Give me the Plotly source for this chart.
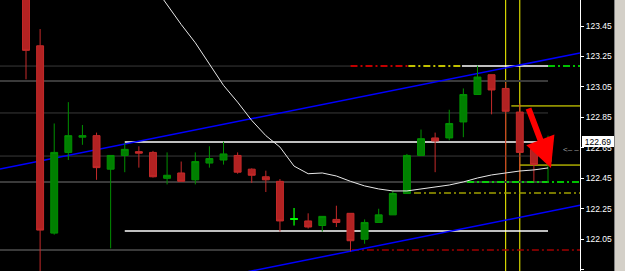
import plotly.graph_objects as go

# ---------------- data ----------------
idx = list(range(38))
opens = [123.75, 123.32, 122.09, 122.62, 122.72, 122.73, 122.51, 122.60, 122.625, 122.62,
         122.45, 122.485, 122.44, 122.55, 122.57, 122.60, 122.51, 122.46, 122.43, 122.18,
         122.17, 122.14, 122.18, 122.22, 122.05, 122.16, 122.21, 122.35, 122.60, 122.715,
         122.715, 122.82, 123.00, 123.13, 123.04, 122.885, 122.64, 122.56]
highs = [123.80, 123.43, 122.81, 122.95, 122.80, 122.75, 122.60, 122.68, 122.66, 122.63,
         122.62, 122.56, 122.62, 122.66, 122.69, 122.62, 122.515, 122.50, 122.445, 122.255,
         122.22, 122.20, 122.27, 122.22, 122.18, 122.25, 122.37, 122.61, 122.77, 122.75,
         122.90, 123.04, 123.19, 123.13, 123.08, 122.94, 122.64, 122.73]
lows = [123.10, 121.80, 122.08, 122.57, 122.67, 122.44, 121.99, 122.49, 122.52, 122.455,
        122.41, 122.43, 122.41, 122.52, 122.54, 122.48, 122.42, 122.36, 122.10, 122.14,
        122.12, 122.10, 122.13, 121.97, 122.02, 122.16, 122.21, 122.35, 122.60, 122.49,
        122.70, 122.72, 123.00, 122.87, 122.44, 122.44, 122.43, 122.42]
closes = [123.29, 122.11, 122.62, 122.73, 122.73, 122.52, 122.60, 122.64, 122.615, 122.46,
          122.47, 122.43, 122.56, 122.58, 122.61, 122.49, 122.47, 122.44, 122.17, 122.185,
          122.13, 122.20, 122.16, 122.04, 122.16, 122.21, 122.35, 122.60, 122.71, 122.695,
          122.81, 123.00, 123.115, 123.03, 122.89, 122.62, 122.54, 122.69]
doji_idx = [19]

ma = [None] * 6 + [124.11, 123.975, 123.85, 123.72, 123.59, 123.46, 123.34, 123.20, 123.06,
                   122.95, 122.83, 122.73, 122.655, 122.53, 122.48, 122.485, 122.465, 122.43,
                   122.40, 122.38, 122.367, 122.367, 122.38, 122.393, 122.406, 122.426,
                   122.452, 122.472, 122.485, 122.498, 122.505, 122.518]

tick_vals = [121.85, 122.05, 122.25, 122.45, 122.65, 122.85, 123.05, 123.25, 123.45]
last_price = 122.69

gray_levels = [123.187, 123.089, 122.879, 122.596, 122.426, 121.979]
gray_end = [23, 37, 37, 37, 37, 23]

white_levels = [122.688, 122.104, 123.187]
white_start = [7, 7, 30.9]
white_end = [37, 37, 37]

# dash-dot levels: level, start index, end index (None = right edge)
dd_levels = [123.187, 123.187, 123.187, 122.426, 122.353, 121.979]
dd_start = [23.0, 27.1, 37.0, 31.26, 27.5, 23.1]
dd_end = [27.1, 30.9, None, None, None, None]

yellow_levels = [122.925, 122.537]
yellow_start = [34.4, 35.0]
vline_idx = [34, 35]

trend_x = [-1.843, 39.27]
trend_upper = [122.511, 123.273]
channel_width = 1.0

arrow_tail = [35.58, 122.918]
arrow_head = [37.21, 122.518]
marker_pos = [38.6, 122.642]

# ---------------- styles ----------------
X_RANGE = [-1.843, 39.268]
Y_RANGE = [121.8413, 123.6207]
gray_widths = [1, 2, 1, 1, 2, 2]
dd_colors = ["#ff0000", "#ffff00", "#00ff00", "#00ff00", "#a0a000", "#a00000"]
DASHDOT = "7px,3px,2px,3px"

fig = go.Figure()

# MA line
fig.add_trace(go.Scatter(x=idx, y=ma, mode="lines", line=dict(color="#e8e8e8", width=1),
                         hoverinfo="skip"))

fig.add_trace(go.Candlestick(
    x=idx, open=opens, high=highs, low=lows, close=closes,
    increasing=dict(fillcolor="#008000", line=dict(color="#009000", width=1)),
    decreasing=dict(fillcolor="#b22222", line=dict(color="#c42a2a", width=1)),
    whiskerwidth=0,
))
fig.add_trace(go.Candlestick(
    x=[idx[i] for i in doji_idx], open=[opens[i] for i in doji_idx],
    high=[highs[i] for i in doji_idx], low=[lows[i] for i in doji_idx],
    close=[closes[i] for i in doji_idx],
    increasing=dict(fillcolor="#00ff00", line=dict(color="#00ff00", width=1)),
    decreasing=dict(fillcolor="#00ff00", line=dict(color="#00ff00", width=1)),
    whiskerwidth=0,
))

shapes = []
for lv, end, w in zip(gray_levels, gray_end, gray_widths):
    shapes.append(dict(type="line", xref="x", yref="y", x0=X_RANGE[0], x1=end, y0=lv, y1=lv,
                       line=dict(color="#3a3a3a", width=w), layer="below"))
for lv, s, e in zip(white_levels, white_start, white_end):
    shapes.append(dict(type="line", xref="x", yref="y", x0=s, x1=e, y0=lv, y1=lv,
                       line=dict(color="#ffffff", width=1.5), layer="below"))
for lv, s, e, c in zip(dd_levels, dd_start, dd_end, dd_colors):
    shapes.append(dict(type="line", xref="x", yref="y", x0=s, x1=(X_RANGE[1] if e is None else e),
                       y0=lv, y1=lv, line=dict(color=c, width=1.5, dash=DASHDOT), layer="below"))
for lv, s in zip(yellow_levels, yellow_start):
    shapes.append(dict(type="line", xref="x", yref="y", x0=s, x1=X_RANGE[1], y0=lv, y1=lv,
                       line=dict(color="#ffff00", width=1), layer="below"))
for v in vline_idx:
    shapes.append(dict(type="line", xref="x", yref="paper", x0=v, x1=v, y0=0, y1=1,
                       line=dict(color="#ffff00", width=1), layer="below"))
for off in [0, -channel_width]:
    shapes.append(dict(type="line", xref="x", yref="y", x0=trend_x[0], x1=trend_x[1],
                       y0=trend_upper[0] + off, y1=trend_upper[1] + off,
                       line=dict(color="#0000ff", width=1.5), layer="below"))

# window frame at the right
PW = 580.0
shapes.append(dict(type="rect", xref="paper", yref="paper", x0=614 / PW, x1=626 / PW, y0=-0.01, y1=1.01,
                   fillcolor="#d4d0c8", line=dict(width=0), layer="above"))
shapes.append(dict(type="line", xref="paper", yref="paper", x0=614.5 / PW, x1=614.5 / PW, y0=-0.01, y1=1.01,
                   line=dict(color="#808080", width=1), layer="above"))

annotations = [
    dict(x=arrow_head[0], y=arrow_head[1], ax=arrow_tail[0], ay=arrow_tail[1],
         xref="x", yref="y", axref="x", ayref="y", showarrow=True, text="",
         arrowhead=2, arrowsize=1.0, arrowwidth=6, arrowcolor="#ff0000"),
    dict(x=1, y=last_price, xref="paper", yref="y", xanchor="left", yanchor="middle",
         xshift=2, text=f"{last_price:.2f}", showarrow=False, bgcolor="#ffffff",
         bordercolor="#ffffff", borderwidth=1, borderpad=0, width=30, height=9,
         font=dict(family="Liberation Sans", size=8.5, color="#000000")),
    dict(x=marker_pos[0], y=marker_pos[1], xref="x", yref="y", text="<– –", showarrow=False,
         font=dict(family="Liberation Sans", size=8, color="#a0a0a0")),
]

fig.update_layout(
    width=625, height=271, margin=dict(l=0, r=45, t=0, b=0),
    paper_bgcolor="#000000", plot_bgcolor="#000000", showlegend=False,
    shapes=shapes, annotations=annotations,
    xaxis=dict(range=X_RANGE, visible=False, rangeslider=dict(visible=False), fixedrange=True),
    yaxis=dict(range=Y_RANGE, side="right", tickvals=tick_vals,
               ticktext=[f"{v:.2f}" for v in tick_vals], showgrid=False, zeroline=False,
               showline=True, linecolor="#ffffff", linewidth=1,
               ticks="outside", ticklen=3, tickcolor="#ffffff",
               tickfont=dict(family="Liberation Sans", size=8.5, color="#ffffff")),
)

fig.write_html("out.html")
